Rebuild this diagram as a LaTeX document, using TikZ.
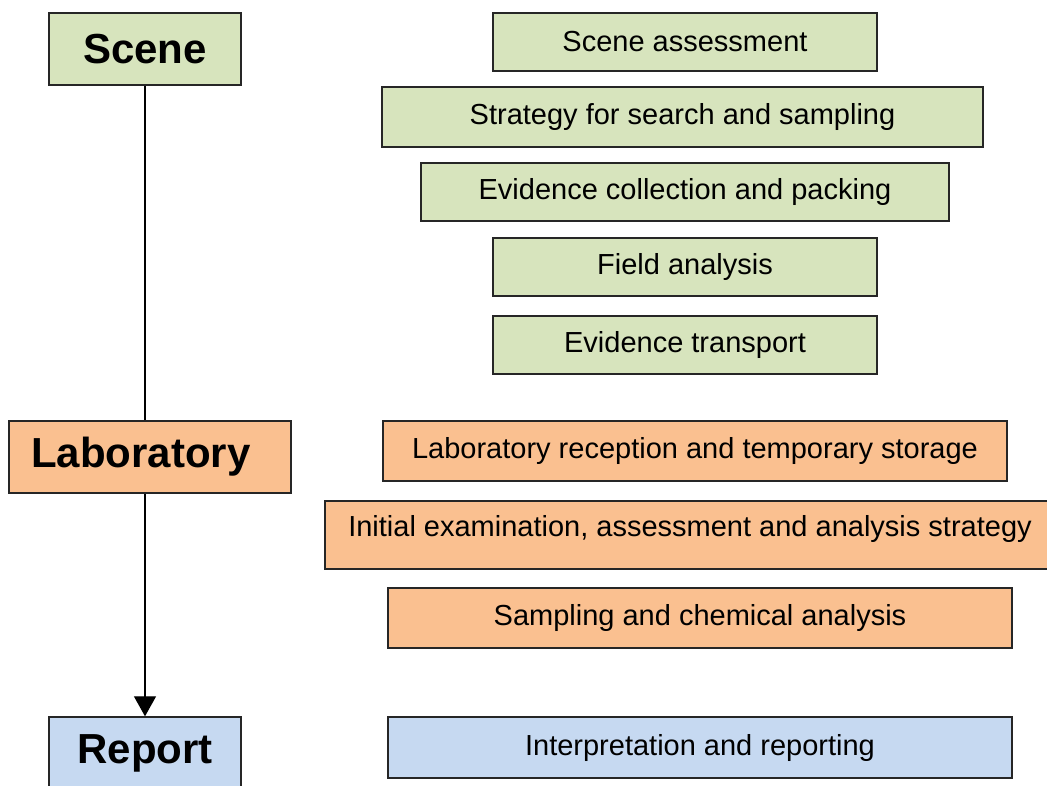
\documentclass[tikz,border=0pt]{standalone}
\usepackage{fontspec}
\setmainfont{Liberation Sans}
\usepackage{xcolor}
\usepackage{tikz}
\usetikzlibrary{calc,positioning,arrows.meta}

\definecolor{scenegreen}{HTML}{D7E4BD}
\definecolor{labpeach}{HTML}{FAC090}
\definecolor{reportblue}{HTML}{C6D9F1}

\tikzset{
    stagebox/.style={
        draw=black!85,
        line width=1.4pt,
        inner sep=0pt,
        minimum height=72pt,
        font=\bfseries\fontsize{42}{48}\selectfont
    },
    stepbox/.style={
        draw=black!85,
        line width=1.4pt,
        inner sep=0pt,
        font=\fontsize{29}{33}\selectfont
    }
}

\begin{document}
\begin{tikzpicture}[x=1pt,y=-1pt]
        \clip (0,0) rectangle (1047,785);
        % stages on the left
        \node[stagebox,fill=scenegreen,minimum width=192pt] (scene) at (145,49) {Scene};
        \node[stagebox,fill=labpeach,minimum width=282pt,
            label={[font=\bfseries\fontsize{42}{48}\selectfont,inner sep=0pt,xshift=-9pt]center:Laboratory}] (lab) at (150,457) {};
        \node[stagebox,fill=reportblue,minimum width=192pt] (report) at (145,753) {Report};

        % scene steps
        \node[stepbox,fill=scenegreen,minimum width=384pt,minimum height=58pt] (assess) at (685,42) {Scene assessment};
        \node[stepbox,fill=scenegreen,minimum width=601pt,minimum height=60pt] (strategy) at (682.5,117) {Strategy for search and sampling};
        \node[stepbox,fill=scenegreen,minimum width=528pt,minimum height=58pt] (collect) at (685,192) {Evidence collection and packing};
        \node[stepbox,fill=scenegreen,minimum width=384pt,minimum height=58pt] (field) at (685,267) {Field analysis};
        \node[stepbox,fill=scenegreen,minimum width=384pt,minimum height=58pt] (transport) at (685,345) {Evidence transport};

        % laboratory steps
        \node[stepbox,fill=labpeach,minimum width=624pt,minimum height=60pt] (reception) at (695,451) {Laboratory reception and temporary storage};
        \node[stepbox,fill=labpeach,minimum width=730pt,minimum height=68pt,text depth=18pt] (initial) at (690,535) {Initial examination, assessment and analysis strategy};
        \node[stepbox,fill=labpeach,minimum width=624pt,minimum height=60pt] (chem) at (700,618) {Sampling and chemical analysis};

        % report step
        \node[stepbox,fill=reportblue,minimum width=624pt,minimum height=61pt] (interp) at (700,747.5) {Interpretation and reporting};

        % timeline
        \draw[line width=1.2pt] (scene.south) -- (scene.south |- lab.north);
        \draw[line width=1.2pt,-{Triangle[length=20pt,width=22pt]}]
            (scene.south |- lab.south) -- (report.north);
    \end{tikzpicture}
\end{document}
